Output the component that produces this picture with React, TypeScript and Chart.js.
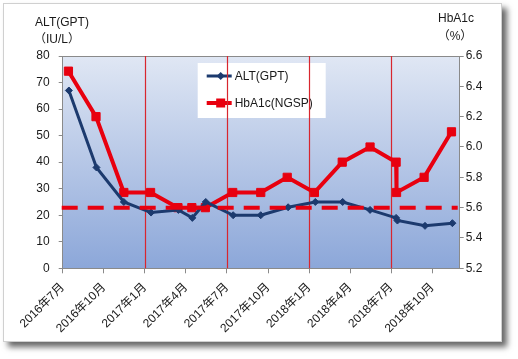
import React, { useEffect, useRef } from "react";
import { Chart, registerables } from "chart.js";

Chart.register(...registerables);

// ---- data ----
const START_YEAR = 2016;
const START_MONTH = 7;

const altDates = [
  "2016-07-15", "2016-09-15", "2016-11-15", "2017-01-15", "2017-03-15", "2017-04-15",
  "2017-05-15", "2017-07-15", "2017-09-15", "2017-11-15", "2018-01-15", "2018-03-15",
  "2018-05-15", "2018-07-12", "2018-07-15", "2018-09-15", "2018-11-15",
];
const altValues = [67, 38, 25, 21, 22, 19, 25, 20, 20, 23, 25, 25, 22, 19, 18, 16, 17];

const hbDates = [
  "2016-07-14", "2016-09-14", "2016-11-15", "2017-01-14", "2017-03-14", "2017-04-14",
  "2017-05-14", "2017-07-14", "2017-09-15", "2017-11-13", "2018-01-13", "2018-03-14",
  "2018-05-15", "2018-07-12", "2018-07-13", "2018-09-13", "2018-11-13",
];
const hbValues = [6.5, 6.2, 5.7, 5.7, 5.6, 5.6, 5.6, 5.7, 5.7, 5.8, 5.7, 5.9, 6.0, 5.9, 5.7, 5.8, 6.1];

const tickDates = [
  "2016-07-01", "2016-10-01", "2017-01-01", "2017-04-01", "2017-07-01",
  "2017-10-01", "2018-01-01", "2018-04-01", "2018-07-01", "2018-10-01",
];
const tickLabels = [
  "2016年7月", "2016年10月", "2017年1月", "2017年4月", "2017年7月",
  "2017年10月", "2018年1月", "2018年4月", "2018年7月", "2018年10月",
];
const markerDates = ["2017-01-01", "2017-07-01", "2018-01-01", "2018-07-01"];
const refHbA1c = 5.6;
const xStartDate = "2016-07-01";
const xEndDate = "2018-12-01";

const altLabel = "ALT(GPT)";
const hbLabel = "HbA1c(NGSP)";

function toMonth(s: string): number {
  const [y, m, d] = s.split("-").map(Number);
  const dim = new Date(y, m, 0).getDate();
  return (y - START_YEAR) * 12 + (m - START_MONTH) + (d - 1) / dim;
}

const FONT = '"Liberation Sans", "Noto Sans CJK JP", sans-serif';
const BLUE = "#1c3a6e";
const RED = "#e8000f";
const MARK = "#d8262e";
const AXIS = "#8a8a8a";
const TXT = "#1a1a1a";

const deco = {
  id: "deco",
  beforeDraw(chart: any) {
    const { ctx, chartArea: a } = chart;
    ctx.save();
    ctx.shadowColor = "rgba(0,0,0,0.6)";
    ctx.shadowBlur = 6;
    ctx.shadowOffsetX = 5;
    ctx.shadowOffsetY = 5;
    ctx.fillStyle = "#ffffff";
    ctx.fillRect(3, 3, 499, 339);
    ctx.restore();

    ctx.save();
    ctx.strokeStyle = "#d0d0d0";
    ctx.lineWidth = 1;
    ctx.strokeRect(3.5, 3.5, 498, 338);
    const g = ctx.createLinearGradient(0, a.top, 0, a.bottom);
    g.addColorStop(0, "#e0e7f4");
    g.addColorStop(1, "#8ca7d9");
    ctx.fillStyle = g;
    ctx.fillRect(a.left, a.top, a.right - a.left, a.bottom - a.top);
    ctx.strokeStyle = AXIS;
    ctx.beginPath();
    ctx.moveTo(a.left, a.top + 0.5);
    ctx.lineTo(a.right, a.top + 0.5);
    ctx.stroke();

    // legend box
    const lx = a.left + 135;
    const ly = a.top + 7;
    ctx.fillStyle = "#ffffff";
    ctx.fillRect(lx, ly, 128, 55);
    const items = [
      { label: altLabel, color: BLUE, style: "diamond", y: ly + 13, w: 3 },
      { label: hbLabel, color: RED, style: "square", y: ly + 40, w: 4 },
    ];
    for (const it of items) {
      ctx.strokeStyle = it.color;
      ctx.lineWidth = it.w;
      ctx.beginPath();
      ctx.moveTo(lx + 9, it.y);
      ctx.lineTo(lx + 34, it.y);
      ctx.stroke();
      ctx.fillStyle = it.color;
      const cx = lx + 23;
      if (it.style === "diamond") {
        ctx.beginPath();
        ctx.moveTo(cx, it.y - 4);
        ctx.lineTo(cx + 4, it.y);
        ctx.lineTo(cx, it.y + 4);
        ctx.lineTo(cx - 4, it.y);
        ctx.closePath();
        ctx.fill();
      } else {
        ctx.fillRect(cx - 4.5, it.y - 4.5, 9, 9);
      }
      ctx.fillStyle = TXT;
      ctx.font = `12px ${FONT}`;
      ctx.textAlign = "left";
      ctx.textBaseline = "middle";
      ctx.fillText(it.label, lx + 37, it.y + 1);
    }

    // axis titles
    ctx.fillStyle = TXT;
    ctx.font = `12px ${FONT}`;
    ctx.textAlign = "center";
    ctx.textBaseline = "middle";
    ctx.fillText("ALT(GPT)", 62, 23);
    ctx.fillText("（IU/L）", 57, 40);
    ctx.fillText("HbA1c", 456, 19);
    ctx.fillText("（%）", 455, 37);
    ctx.restore();
  },
  beforeDatasetsDraw(chart: any) {
    const { ctx, chartArea: a, scales } = chart;
    ctx.save();
    ctx.strokeStyle = MARK;
    ctx.lineWidth = 1.2;
    for (const d of markerDates) {
      const x = Math.round(scales.x.getPixelForValue(toMonth(d))) + 0.5;
      ctx.beginPath();
      ctx.moveTo(x, a.top);
      ctx.lineTo(x, a.bottom);
      ctx.stroke();
    }
    ctx.restore();
  },
  afterDatasetsDraw(chart: any) {
    const { ctx, chartArea: a, scales } = chart;
    const y = scales.y1.getPixelForValue(refHbA1c);
    ctx.save();
    ctx.strokeStyle = RED;
    ctx.lineWidth = 4;
    ctx.setLineDash([16, 10]);
    ctx.beginPath();
    ctx.moveTo(a.left - 1, y);
    ctx.lineTo(a.right - 2, y);
    ctx.stroke();
    ctx.restore();
  },
};

export default function App() {
  const ref = useRef<HTMLCanvasElement | null>(null);
  useEffect(() => {
    if (!ref.current) return;
    const tickFont = { family: FONT, size: 12 };
    const chart = new Chart(ref.current, {
      type: "line",
      data: {
        datasets: [
          {
            label: altLabel,
            data: altDates.map((d, i) => ({ x: toMonth(d), y: altValues[i] })),
            yAxisID: "y",
            borderColor: BLUE,
            backgroundColor: BLUE,
            pointBackgroundColor: BLUE,
            pointBorderColor: BLUE,
            borderWidth: 3,
            pointStyle: "rectRot",
            pointRadius: 3.5,
            pointBorderWidth: 1,
            tension: 0,
          },
          {
            label: hbLabel,
            data: hbDates.map((d, i) => ({ x: toMonth(d), y: hbValues[i] })),
            yAxisID: "y1",
            borderColor: RED,
            backgroundColor: RED,
            pointBackgroundColor: RED,
            pointBorderColor: RED,
            borderWidth: 4,
            pointStyle: "rect",
            pointRadius: 5.8,
            pointBorderWidth: 1,
            tension: 0,
          },
        ],
      },
      options: {
        responsive: false,
        animation: false,
        layout: { padding: { left: 10, right: 10, top: 56, bottom: 10 } },
        plugins: { legend: { display: false }, tooltip: { enabled: false } },
        scales: {
          x: {
            type: "linear",
            min: toMonth(xStartDate),
            max: toMonth(xEndDate),
            afterBuildTicks: (s: any) => {
              s.ticks = tickDates.map((d) => ({ value: toMonth(d) }));
            },
            afterFit: (s: any) => {
              s.height = 80.7;
            },
            ticks: {
              autoSkip: false,
              maxRotation: 45,
              minRotation: 45,
              font: tickFont,
              color: TXT,
              padding: 7,
              callback: (_v: any, i: number) => tickLabels[i],
            },
            grid: { drawOnChartArea: false, drawTicks: true, tickLength: 5, color: AXIS },
            border: { color: AXIS },
          },
          y: {
            position: "left",
            min: 0,
            max: 80,
            afterFit: (s: any) => {
              s.width = 52.7;
            },
            ticks: { stepSize: 10, font: tickFont, color: TXT, padding: 9 },
            grid: { drawOnChartArea: false, drawTicks: true, tickLength: 4, color: AXIS },
            border: { color: AXIS },
          },
          y1: {
            position: "right",
            min: 5.2,
            max: 6.6,
            afterFit: (s: any) => {
              s.width = 48.3;
            },
            ticks: {
              stepSize: 0.2,
              font: tickFont,
              color: TXT,
              padding: 2,
              callback: (v: any) => Number(v).toFixed(1),
            },
            grid: { drawOnChartArea: false, drawTicks: true, tickLength: 4, color: AXIS },
            border: { color: AXIS },
          },
        },
      },
      plugins: [deco],
    });
    return () => chart.destroy();
  }, []);
  return (
    <div style={{ position: "absolute", left: 0, top: 0, width: 518, height: 359, background: "#ffffff" }}>
      <canvas ref={ref} width={518} height={359} style={{ display: "block", width: 518, height: 359 }} />
    </div>
  );
}
